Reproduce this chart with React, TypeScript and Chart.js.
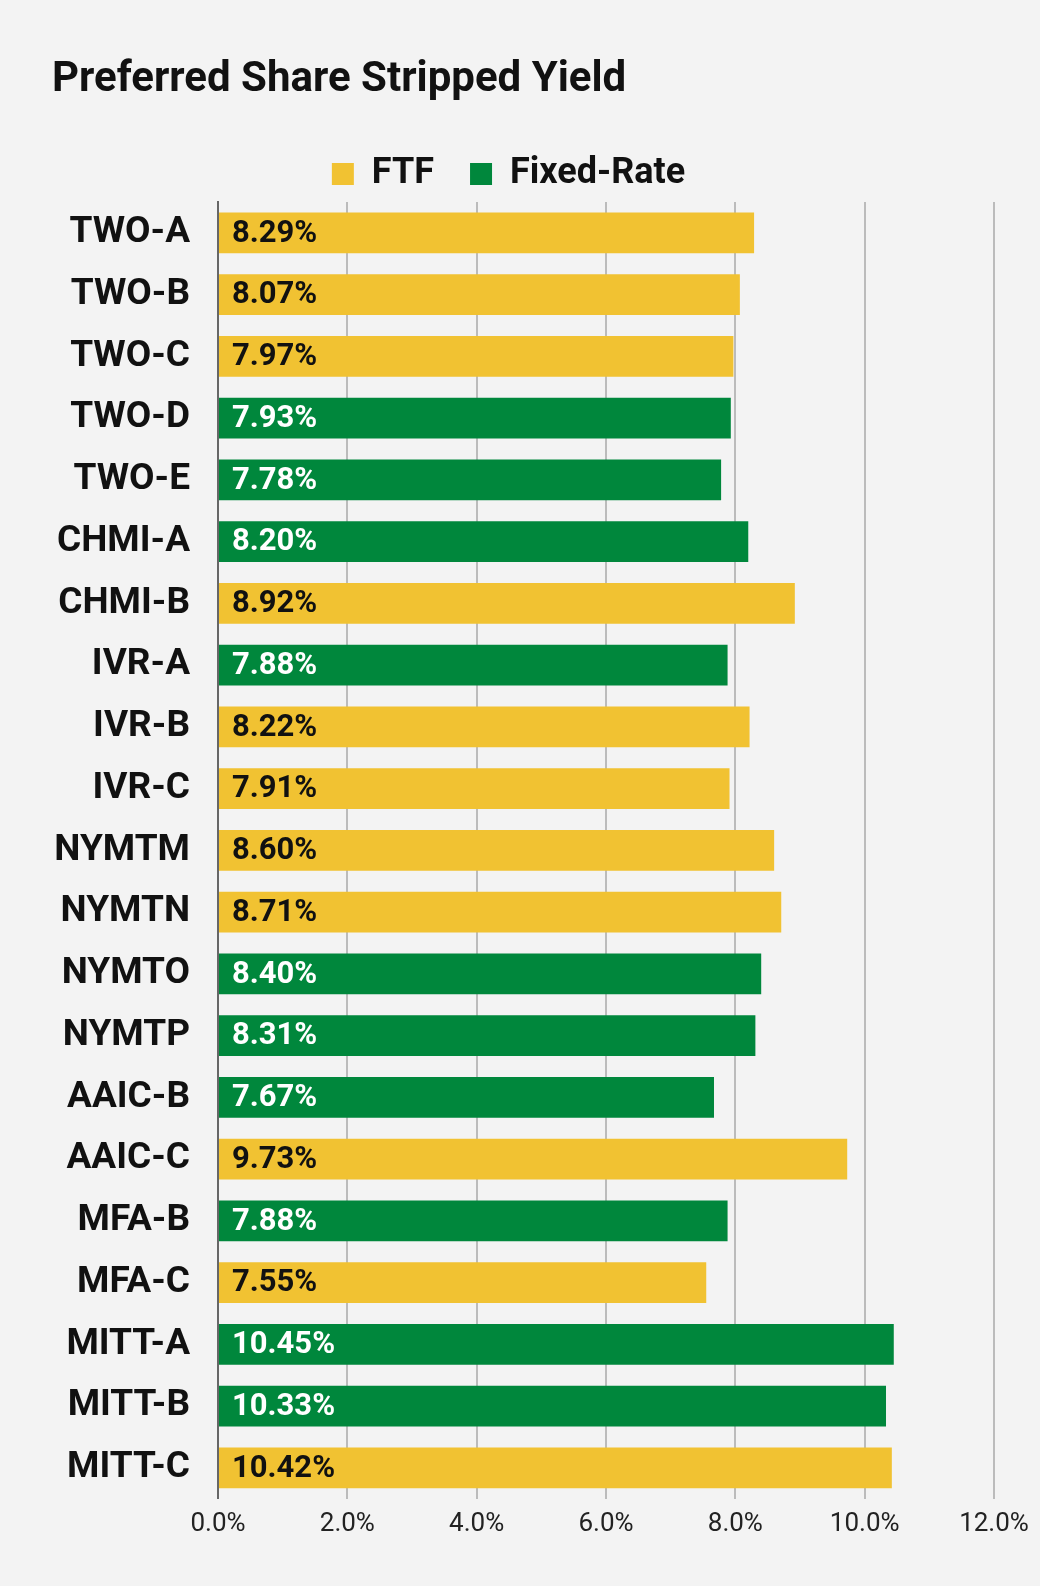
import React, { useEffect, useRef } from "react";
import { Chart, registerables } from "chart.js";
Chart.register(...registerables);

const title = "Preferred Share Stripped Yield";
const categories = ["TWO-A","TWO-B","TWO-C","TWO-D","TWO-E","CHMI-A","CHMI-B","IVR-A","IVR-B","IVR-C","NYMTM","NYMTN","NYMTO","NYMTP","AAIC-B","AAIC-C","MFA-B","MFA-C","MITT-A","MITT-B","MITT-C"];
const values = [8.29,8.07,7.97,7.93,7.78,8.20,8.92,7.88,8.22,7.91,8.60,8.71,8.40,8.31,7.67,9.73,7.88,7.55,10.45,10.33,10.42];
const kinds = ["F","F","F","X","X","X","F","X","F","F","F","F","X","X","X","F","X","F","X","X","F"];
const ftf = values.map((v, i) => (kinds[i] === "F" ? v : null));
const fixed = values.map((v, i) => (kinds[i] === "X" ? v : null));

const labelPlugin = {
  id: "barLabels",
  afterDatasetsDraw(chart: any) {
    const ctx = chart.ctx;
    ctx.save();
    ctx.font = "bold 31px Roboto";
    ctx.textBaseline = "middle";
    chart.data.datasets.forEach((ds: any, di: number) => {
      const meta = chart.getDatasetMeta(di);
      meta.data.forEach((bar: any, i: number) => {
        const v = ds.data[i];
        if (v == null) return;
        ctx.fillStyle = di === 0 ? "#111" : "#fff";
        ctx.fillText(v.toFixed(2) + "%", chart.chartArea.left + 14, bar.y + 1);
      });
    });
    ctx.restore();
  },
};

const bgTitle = {
  id: "bgTitle",
  beforeDraw(c: any) {
    const x = c.ctx;
    x.save();
    x.fillStyle = "#F3F3F3";
    x.fillRect(0, 0, c.width, c.height);
    x.fillStyle = "#111";
    x.font = "bold 42px Roboto";
    x.textBaseline = "middle";
    x.fillText(title, 52, 80);
    x.restore();
  },
};

export default function App() {
  const ref = useRef<HTMLCanvasElement>(null);
  useEffect(() => {
    document.body.style.margin = "0";
    const chart = new Chart(ref.current!, {
      type: "bar",
      data: {
        labels: categories,
        datasets: [
          { label: "FTF", data: ftf, backgroundColor: "#F1C232", barPercentage: 0.66, categoryPercentage: 1 },
          { label: "Fixed-Rate", data: fixed, backgroundColor: "#00873C", barPercentage: 0.66, categoryPercentage: 1 },
        ],
      },
      options: {
        indexAxis: "y",
        animation: false,
        responsive: false,
        layout: { padding: { left: 23, right: 46, top: 120, bottom: 36 } },
        plugins: {
          title: { display: false },
          legend: {
            labels: { color: "#111", font: { family: "Roboto", size: 36, weight: "bold" }, boxWidth: 22, boxHeight: 22, padding: 36 },
          },
          tooltip: { enabled: false },
        },
        scales: {
          x: {
            min: 0, max: 12, stacked: true,
            ticks: { stepSize: 2, color: "#222", font: { family: "Roboto", size: 26 }, callback: (v: any) => Number(v).toFixed(1) + "%", padding: 10 },
            grid: { color: "#bbb", lineWidth: 2, drawTicks: false },
            border: { display: false },
          },
          y: {
            stacked: true,
            ticks: { color: "#111", font: { family: "Roboto", size: 37, weight: "bold" }, padding: 20 },
            grid: { display: false },
            border: { color: "#666", width: 2 },
            afterFit: (s: any) => { s.width = 195; },
          },
        },
      },
      plugins: [labelPlugin, bgTitle],
    });
    return () => chart.destroy();
  }, []);
  return <div style={{ width: 1040, height: 1586, background: "#F3F3F3" }}><canvas ref={ref} width={1040} height={1586} /></div>;
}
